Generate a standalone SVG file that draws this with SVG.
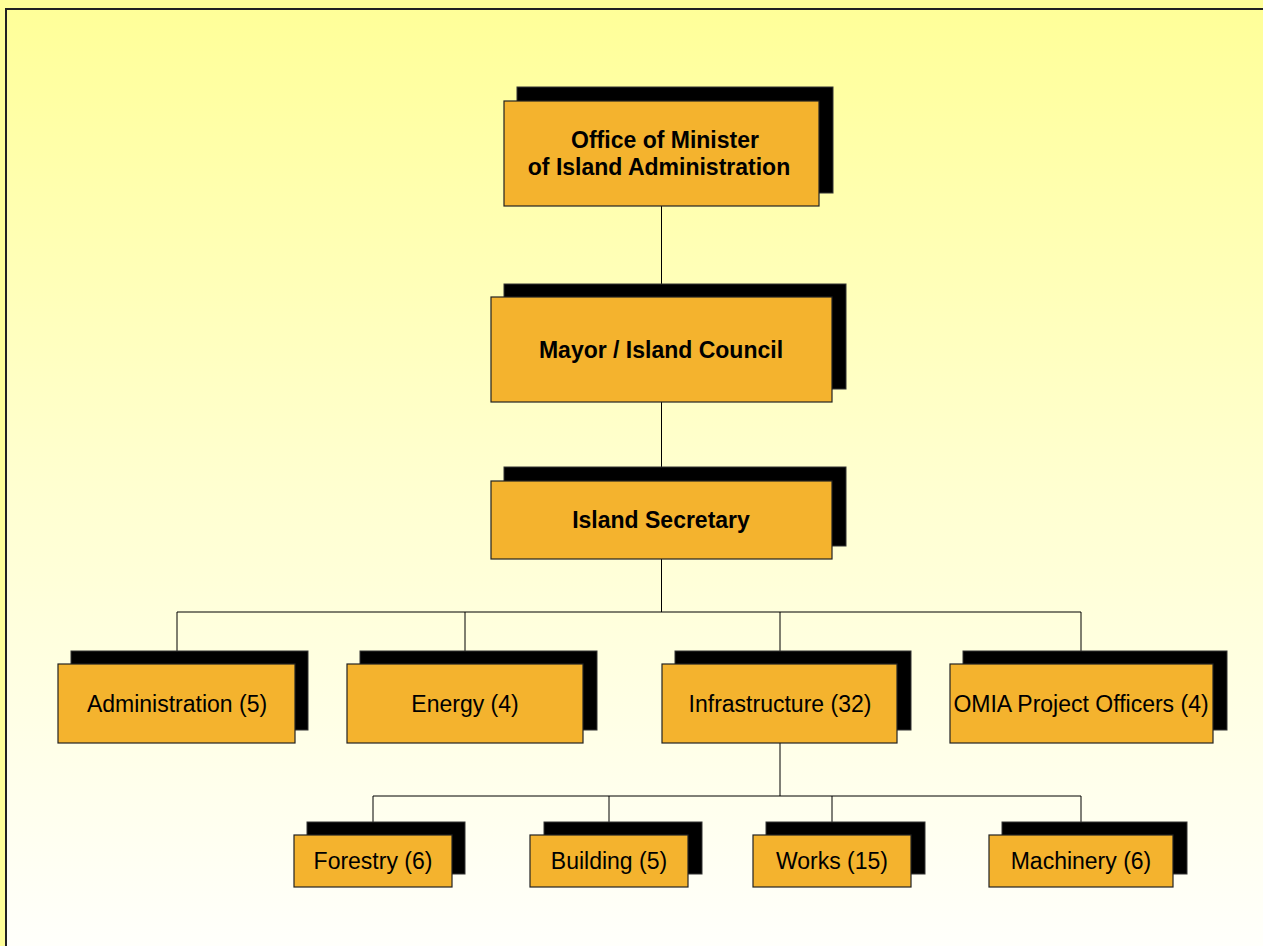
<svg xmlns="http://www.w3.org/2000/svg" width="1263" height="946" viewBox="0 0 1263 946">
<defs>
<linearGradient id="bg" x1="0" y1="0" x2="0" y2="1">
<stop offset="0" stop-color="#FFFF99"/>
<stop offset="0.5" stop-color="#FFFFD0"/>
<stop offset="1" stop-color="#FFFFFC"/>
</linearGradient>
<style>
.sh{fill:#000;stroke:#333;stroke-width:1}
.bx{fill:#F4B32E;stroke:#222;stroke-width:1.2}
.tb{font-family:"Liberation Sans",Arial,sans-serif;font-weight:bold;font-size:23px;fill:#000;text-anchor:middle}
.tn{font-family:"Liberation Sans",Arial,sans-serif;font-size:23px;fill:#000;text-anchor:middle}
.cn{stroke:#000;stroke-width:1;fill:none}
</style>
</defs>
<rect x="0" y="0" width="1263" height="946" fill="#FFFF99"/>
<rect x="6" y="9" width="1270" height="950" fill="url(#bg)" stroke="#222" stroke-width="2"/>
<g id="connectors">
<path class="cn" d="M661.5 206V297M661.5 402V481M661.5 559V612M177 612H1081M177 612V651M465 612V651M780 612V651M1081 612V651M780 743V796M373 796H1081M373 796V822M609 796V822M832 796V822M1081 796V822"/>
</g>
<g id="n-minister">
<rect class="sh" x="517" y="87" width="316" height="106"/>
<rect class="bx" x="504" y="101" width="315" height="105"/>
<text class="tb" x="665" y="148">Office of Minister</text>
<text class="tb" x="659" y="175">of Island Administration</text>
</g>
<g id="n-mayor">
<rect class="sh" x="504" y="284" width="342" height="105"/>
<rect class="bx" x="491" y="297" width="341" height="105"/>
<text class="tb" x="661" y="358">Mayor / Island Council</text>
</g>
<g id="n-secretary">
<rect class="sh" x="504" y="467" width="342" height="79"/>
<rect class="bx" x="491" y="481" width="341" height="78"/>
<text class="tb" x="661" y="528">Island Secretary</text>
</g>
<g id="n-admin">
<rect class="sh" x="71" y="651" width="237" height="79"/>
<rect class="bx" x="58" y="664" width="237" height="79"/>
<text class="tn" x="177" y="712">Administration (5)</text>
</g>
<g id="n-energy">
<rect class="sh" x="360" y="651" width="237" height="79"/>
<rect class="bx" x="347" y="664" width="236" height="79"/>
<text class="tn" x="465" y="712">Energy (4)</text>
</g>
<g id="n-infra">
<rect class="sh" x="675" y="651" width="236" height="79"/>
<rect class="bx" x="662" y="664" width="235" height="79"/>
<text class="tn" x="780" y="712">Infrastructure (32)</text>
</g>
<g id="n-omia">
<rect class="sh" x="963" y="651" width="264" height="79"/>
<rect class="bx" x="950" y="664" width="263" height="79"/>
<text class="tn" x="1081" y="712">OMIA Project Officers (4)</text>
</g>
<g id="n-forestry">
<rect class="sh" x="307" y="822" width="158" height="52"/>
<rect class="bx" x="294" y="835" width="158" height="52"/>
<text class="tn" x="373" y="869">Forestry (6)</text>
</g>
<g id="n-building">
<rect class="sh" x="544" y="822" width="158" height="52"/>
<rect class="bx" x="530" y="835" width="158" height="52"/>
<text class="tn" x="609" y="869">Building (5)</text>
</g>
<g id="n-works">
<rect class="sh" x="766" y="822" width="159" height="52"/>
<rect class="bx" x="753" y="835" width="158" height="52"/>
<text class="tn" x="832" y="869">Works (15)</text>
</g>
<g id="n-machinery">
<rect class="sh" x="1002" y="822" width="185" height="52"/>
<rect class="bx" x="989" y="835" width="184" height="52"/>
<text class="tn" x="1081" y="869">Machinery (6)</text>
</g>
</svg>
